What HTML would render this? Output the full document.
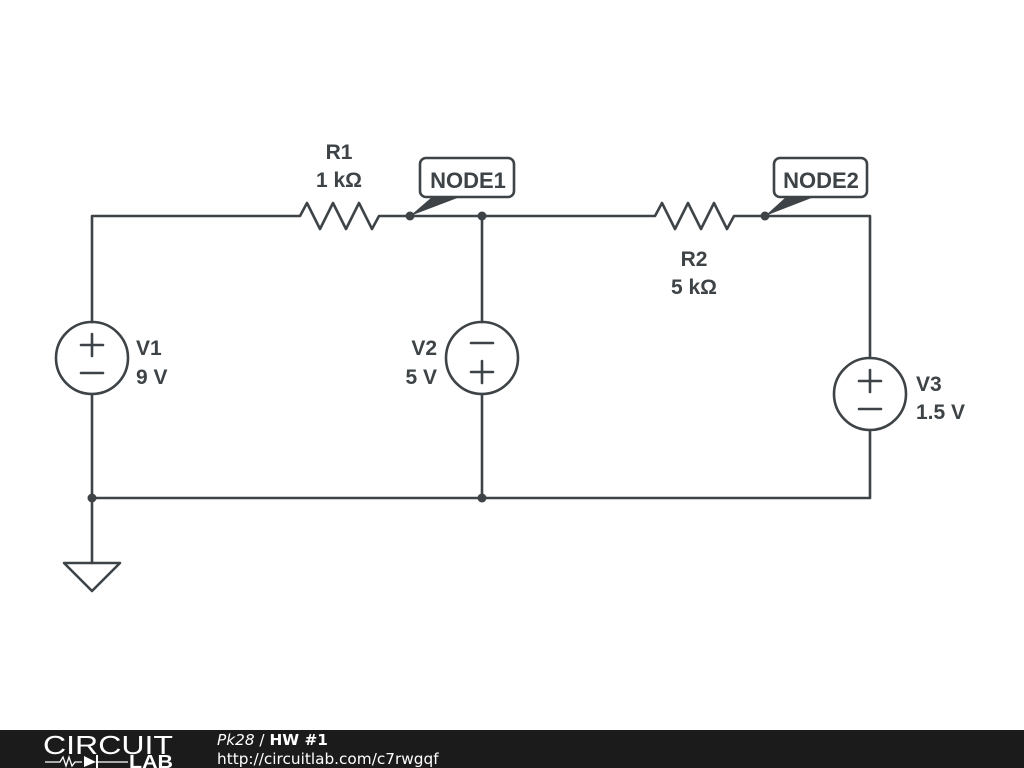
<!DOCTYPE html>
<html><head><meta charset="utf-8"><style>
html,body{margin:0;padding:0;background:#fff;width:1024px;height:768px;overflow:hidden}
text{font-family:"Liberation Sans",Arial,sans-serif}
</style></head><body>
<svg width="1024" height="768" viewBox="0 0 1024 768" xmlns="http://www.w3.org/2000/svg">
<g stroke="#3d4346" stroke-width="2.6" fill="none" stroke-linejoin="round" stroke-linecap="round">
<polyline points="92,322 92,216 300,216 307,203 320,229 333,203 346,229 359,203 372,229 379,216 655,216 662,203 675,229 688,203 701,229 714,203 727,229 734,216 870,216 870,358"/>
<polyline points="870,430 870,498 92,498 92,394"/>
<line x1="92" y1="498" x2="92" y2="563"/>
<polygon points="64,563 120,563 92,591"/>
<line x1="482" y1="216" x2="482" y2="322"/>
<line x1="482" y1="394" x2="482" y2="498"/>
<circle cx="92" cy="358" r="36"/>
<circle cx="482" cy="358" r="36"/>
<circle cx="870" cy="394" r="36"/>
<line x1="81" y1="345" x2="103" y2="345"/><line x1="92" y1="334" x2="92" y2="356"/>
<line x1="81" y1="373" x2="103" y2="373"/>
<line x1="471" y1="343" x2="493" y2="343"/>
<line x1="471" y1="372" x2="493" y2="372"/><line x1="482" y1="361" x2="482" y2="383"/>
<line x1="859" y1="381" x2="881" y2="381"/><line x1="870" y1="370" x2="870" y2="392"/>
<line x1="859" y1="409" x2="881" y2="409"/>
<rect x="420" y="158" width="94" height="39" rx="6" fill="#fff"/>
<rect x="774" y="158" width="93" height="39" rx="6" fill="#fff"/>
</g>
<g fill="#3d4346">
<polygon points="410,216 432,197 460,197"/>
<polygon points="765,216 786,197 814,197"/>
<circle cx="410" cy="216" r="4.5"/><circle cx="482" cy="216" r="4.5"/>
<circle cx="765" cy="216" r="4.5"/><circle cx="92" cy="498" r="4.5"/><circle cx="482" cy="498" r="4.5"/>
</g>
<g fill="#3d4346" font-size="21" font-weight="bold">
<text x="339" y="159" text-anchor="middle">R1</text>
<text x="339" y="187" text-anchor="middle">1 kΩ</text>
<text x="694" y="266" text-anchor="middle">R2</text>
<text x="694" y="294" text-anchor="middle">5 kΩ</text>
<text x="136" y="355">V1</text>
<text x="136" y="384">9 V</text>
<text x="437" y="355" text-anchor="end">V2</text>
<text x="437" y="384" text-anchor="end">5 V</text>
<text x="916" y="391">V3</text>
<text x="916" y="419">1.5 V</text>
<text x="468" y="188" text-anchor="middle" font-size="22">NODE1</text>
<text x="821" y="188" text-anchor="middle" font-size="22">NODE2</text>
</g>
<rect x="0" y="730" width="1024" height="38" fill="#1b1b1b"/>
<text x="43" y="754" fill="#fff" font-size="26" textLength="130" lengthAdjust="spacingAndGlyphs">CIRCUIT</text>
<polyline points="45,762 60,762 63,757 66,766 69,757 72,766 75,762 82,762" stroke="#fff" stroke-width="1.3" fill="none"/>
<polygon points="84,756 84,767 96,762" fill="#fff"/>
<line x1="97" y1="755" x2="97" y2="768" stroke="#fff" stroke-width="2"/>
<line x1="97" y1="762" x2="128" y2="762" stroke="#fff" stroke-width="1.3"/>
<text x="129" y="768" fill="#fff" font-size="18" font-weight="bold" textLength="44" lengthAdjust="spacingAndGlyphs">LAB</text>
<text x="217" y="745" fill="#fff" font-size="15.3" style="font-family:'DejaVu Sans',sans-serif"><tspan font-style="italic">Pk28</tspan> / <tspan font-weight="bold">HW #1</tspan></text>
<text x="217" y="764" fill="#fff" font-size="15.3" style="font-family:'DejaVu Sans',sans-serif">http://circuitlab.com/c7rwgqf</text>
</svg>
</body></html>
